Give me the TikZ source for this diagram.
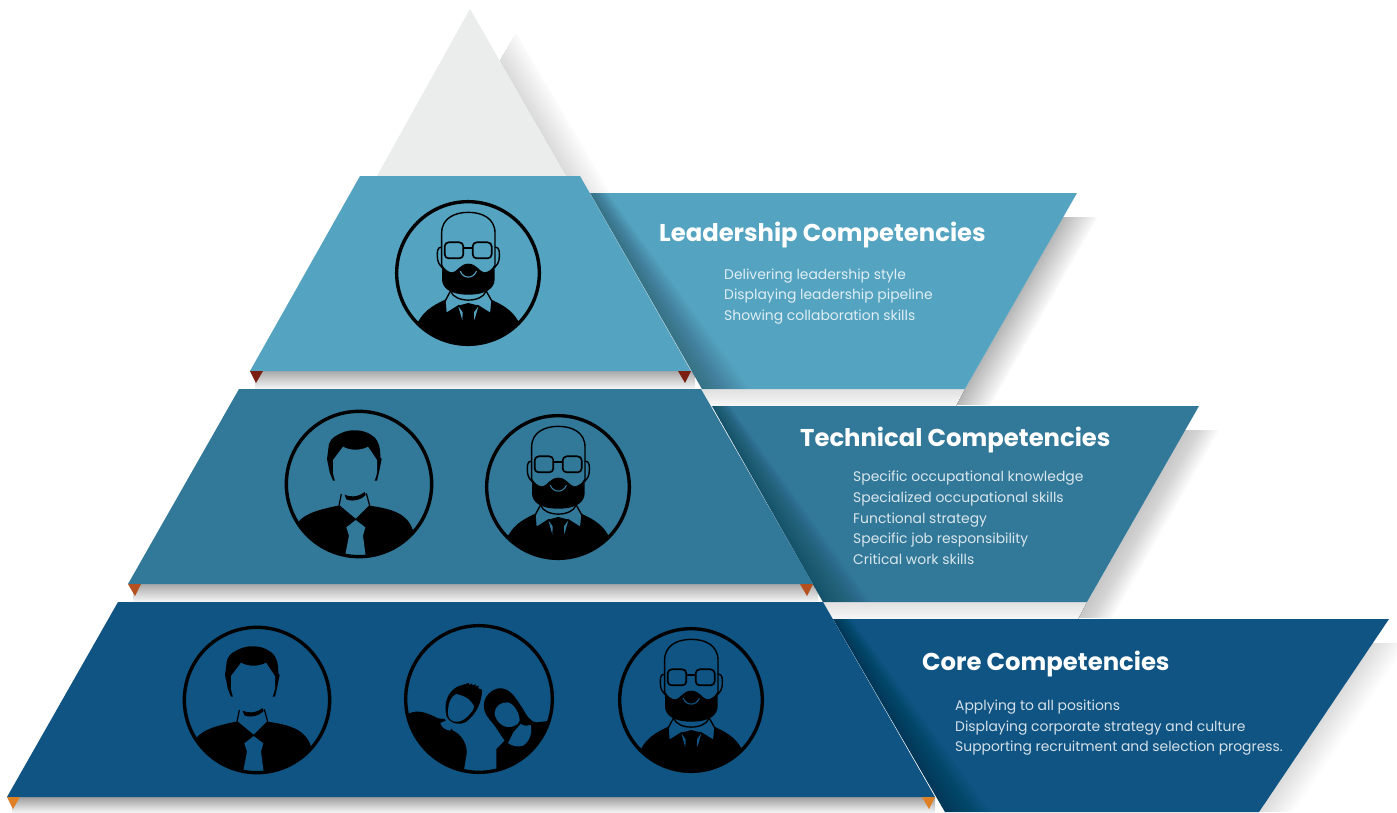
\documentclass[tikz,border=0pt]{standalone}
\usepackage{fontspec}
\setmainfont{Poppins}
\definecolor{leadc}{HTML}{54A3C0}
\definecolor{techc}{HTML}{327899}
\definecolor{corec}{HTML}{0F5482}
\definecolor{apexc}{HTML}{EBECEC}
\definecolor{tria}{HTML}{7A1F12}
\definecolor{trib}{HTML}{B5501F}
\definecolor{tric}{HTML}{DD8026}
\tikzset{
 titletext/.style={anchor=base west,inner sep=0pt,text=white,font=\fontsize{24.3}{27}\selectfont\bfseries},
 bodytext/.style={anchor=base west,inner sep=0pt,text=white!82!#1,font=\fontsize{13.9}{16}\selectfont},
 softstrip/.style={fill=#1,opacity=.01},
 ring/.style={draw=black,line width=3.4pt},
 thin outline/.style={draw=black,line width=1.4pt,line join=round,fill=none},
 pics/beardman/.style={code={
  \begin{scope}[x=1pt/3,y=-1pt/3,shift={(-264,-250)}]
   \begin{scope}
    \clip (264,250) circle (214);
    \fill[black] (100,420) -- (115,395) .. controls (135,358) and (170,342) .. (200,328) -- (330,328) .. controls (360,342) and (395,358) .. (415,395) -- (430,420) -- (430,480) -- (100,480) -- cycle;
   \end{scope}
   \fill[#1] (212,303) -- (195,335) -- (198,372) -- (238,347) -- (292,347) -- (332,372) -- (336,335) -- (318,303) -- cycle;
   \fill[black] (238,347) -- (265,340) -- (292,347) -- (300,400) -- (230,400) -- cycle;
   \fill[#1] (235,350) -- (247,392) -- (248,368) -- cycle;
   \fill[#1] (295,350) -- (283,392) -- (282,368) -- cycle;
   \draw[thin outline] (212,305) .. controls (225,340) and (305,340) .. (318,305);
   \draw[thin outline] (212,303) -- (195,335) -- (198,372) -- (238,347);
   \draw[thin outline] (318,303) -- (336,335) -- (332,372) -- (292,347);
   \draw[thin outline] (185,235) -- (185,130) .. controls (185,85) and (225,68) .. (265,68) .. controls (305,68) and (345,85) .. (345,130) -- (345,235);
   \draw[thin outline] (185,172) .. controls (170,172) and (172,190) .. (172,200) .. controls (172,215) and (178,228) .. (187,232);
   \draw[thin outline] (345,172) .. controls (360,172) and (358,190) .. (358,200) .. controls (358,215) and (352,228) .. (343,232);
   \draw[thin outline,line width=1.7pt,rounded corners=4pt] (194,158) rectangle (250,206);
   \draw[thin outline,line width=1.7pt,rounded corners=4pt] (278,158) rectangle (335,206);
   \draw[thin outline,line width=1.7pt] (250,174) -- (278,174);
   \fill[black] (186,225) .. controls (195,240) and (205,248) .. (218,248) .. controls (232,246) and (240,222) .. (265,222) .. controls (290,222) and (298,246) .. (312,248) .. controls (325,248) and (335,240) .. (344,225) -- (344,268) .. controls (344,295) and (320,315) .. (265,315) .. controls (210,315) and (186,295) .. (186,268) -- cycle;
   \draw[#1,line width=1.1pt,fill=none,line cap=round] (241,245) .. controls (250,268) and (280,268) .. (289,245);
   \draw[ring] (264,250) circle (214);
  \end{scope}
 }},
 pics/suitman/.style={code={
  \begin{scope}[x=1pt/3,y=-1pt/3,shift={(-268,-250)}]
   \begin{scope}
    \clip (268,250) circle (218);
    \fill[black] (60,420) -- (85,365) .. controls (105,340) and (140,328) .. (205,315) -- (258,355) -- (300,315) .. controls (370,325) and (415,340) .. (430,390) -- (470,480) -- (60,480) -- cycle;
   \end{scope}
   \fill[#1] (258,358) -- (230,380) -- (238,405) -- (227,462) -- (288,466) -- (280,405) -- (287,380) -- cycle;
   \fill[black] (180,215) -- (172,175) -- (178,130) .. controls (185,110) and (200,105) .. (215,97) .. controls (240,85) and (280,85) .. (305,103) .. controls (325,115) and (332,135) .. (332,170) -- (336,175) -- (328,215) -- (322,240) -- (190,240) -- cycle;
   \fill[#1] (190,178) -- (220,138) .. controls (240,150) and (275,150) .. (295,138) -- (322,178) -- (322,215) .. controls (318,245) and (295,280) .. (255,280) .. controls (215,280) and (192,245) .. (190,215) -- cycle;
   \fill[black] (225,282) .. controls (240,290) and (265,290) .. (285,274) -- (288,283) .. controls (270,302) and (240,302) .. (230,296) -- cycle;
   \draw[thin outline,line width=1.2pt] (215,280) -- (208,315) -- (258,357) -- (300,315) -- (290,278);
   \draw[ring] (268,250) circle (218);
  \end{scope}
 }},
 pics/couple/.style={code={
  \begin{scope}[x=1pt/3,y=-1pt/3,shift={(-253,-250)}]
   \begin{scope}
    \clip (253,250) circle (220);
    \fill[black] (20,300) -- (40,295) .. controls (70,278) and (105,295) .. (130,308) -- (150,310) -- (175,345) .. controls (200,355) and (222,390) .. (215,420) -- (205,480) -- (20,480) -- cycle;
    \fill[black] (268,265) .. controls (270,235) and (300,215) .. (322,218) .. controls (350,222) and (365,250) .. (385,280) .. controls (395,300) and (410,320) .. (425,320) -- (460,316) -- (490,480) -- (305,480) -- (305,400) -- (330,375) -- (300,330) .. controls (285,310) and (265,295) .. (268,265) -- cycle;
   \end{scope}
   \fill[#1] (137,322) -- (160,312) -- (180,325) -- (166,345) .. controls (150,342) and (142,335) .. (137,322) -- cycle;
   \fill[black] (153,285) .. controls (150,250) and (165,225) .. (190,212) -- (222,202) -- (224,208) -- (232,203) -- (234,210) -- (243,205) -- (243,212) -- (252,210) -- (251,218) -- (262,222) .. controls (262,260) and (245,295) .. (215,318) .. controls (195,330) and (165,325) .. (155,300) -- cycle;
   \fill[#1] (160,290) .. controls (160,262) and (170,240) .. (185,235) .. controls (205,240) and (220,245) .. (232,262) .. controls (242,270) and (238,282) .. (228,292) .. controls (215,310) and (195,322) .. (178,318) .. controls (165,312) and (160,305) .. (160,290) -- cycle;
   \fill[#1] (300,292) .. controls (300,272) and (320,258) .. (340,260) .. controls (360,265) and (375,295) .. (375,315) .. controls (372,330) and (345,340) .. (325,330) .. controls (310,322) and (300,305) .. (300,292) -- cycle;
   \fill[#1] (378,325) .. controls (390,332) and (400,330) .. (408,328) .. controls (414,350) and (405,378) .. (385,390) .. controls (370,396) and (350,390) .. (340,382) -- (356,350) -- cycle;
   \draw[ring] (253,250) circle (220);
  \end{scope}
 }}
}
\begin{document}
\begin{tikzpicture}[x=1pt,y=-1pt]
\clip (0,0) rectangle (1397,812);
\useasboundingbox (0,0) rectangle (1397,812);
\fill[white] (0,0) rectangle (1397,812);
% apex shadow
\begin{scope}
 \clip (516,33) -- (610,193) -- (422,193) -- cycle;
 \foreach \i in {1,...,36}
  \path[softstrip=black!32] (470,9) -- (580,200) -- ++(\i,0) -- (470+\i,9) -- cycle;
\end{scope}
\fill[apexc] (470,9) -- (566,176) -- (377,176) -- cycle;
% Leadership
\foreach \i in {1,...,35}
 \path[softstrip=black!70] (1063,217) -- (956,405) -- (956+\i,405) -- (1063+\i,217) -- cycle;
\fill[top color=black!12,bottom color=black!3] (695,389) -- (965,389) -- (956,406) -- (695,406) -- cycle;
\fill[top color=black!34,bottom color=black!3] (255,371) rectangle (695,389);
\fill[leadc] (590,193) -- (1077,193) -- (965,389) -- (702,389) -- cycle;
\begin{scope}
 \clip (590,193) -- (1077,193) -- (965,389) -- (702,389) -- cycle;
 \foreach \i in {1,...,30}
  \path[softstrip=black!65!techc] (590,193) -- (702,389) -- (702+1.6*\i,389) -- (590+.6*\i,193) -- cycle;
\end{scope}
\fill[leadc] (360,176) -- (580,176) -- (691,371) -- (250,371) -- cycle;
\fill[tria] (250,371) -- (263,371) -- (256,383) -- cycle;
\fill[tria] (678,371) -- (691,371) -- (685,383) -- cycle;
% Technical
\foreach \i in {1,...,35}
 \path[softstrip=black!50] (1185,430) -- (1078,618) -- (1078+\i,618) -- (1185+\i,430) -- cycle;
\fill[top color=black!12,bottom color=black!3] (815,602) -- (1087,602) -- (1078,619) -- (815,619) -- cycle;
\fill[top color=black!34,bottom color=black!3] (133,584) rectangle (818,602);
\fill[techc] (712,406) -- (1199,406) -- (1087,602) -- (823,602) -- cycle;
\begin{scope}
 \clip (712,406) -- (1199,406) -- (1087,602) -- (823,602) -- cycle;
 \foreach \i in {1,...,30}
  \path[softstrip=black!75!corec] (712,406) -- (823,602) -- (823+1.6*\i,602) -- (712+.6*\i,406) -- cycle;
\end{scope}
\fill[techc] (239,389) -- (701,389) -- (813,584) -- (128,584) -- cycle;
\fill[trib] (128,584) -- (141,584) -- (135,596) -- cycle;
\fill[trib] (800,584) -- (813,584) -- (807,596) -- cycle;
% Core
\foreach \i in {1,...,35}
 \path[softstrip=black!28] (1373,643) -- (1259,812) -- (1259+\i,812) -- (1373+\i,643) -- cycle;
\fill[top color=black!38,bottom color=black!5] (12,797) rectangle (935,812);
\fill[corec] (833,619) -- (1389,619) -- (1259,812) -- (945,812) -- cycle;
\begin{scope}
 \clip (833,619) -- (1389,619) -- (1259,812) -- (945,812) -- cycle;
 \foreach \i in {1,...,30}
  \path[softstrip=black!85!corec] (833,619) -- (945,815) -- (945+1.6*\i,815) -- (833+.6*\i,619) -- cycle;
\end{scope}
\fill[corec] (118,602) -- (823,602) -- (935,797) -- (7,797) -- cycle;
\fill[tric] (7,797) -- (20,797) -- (13,809) -- cycle;
\fill[tric] (922,797) -- (935,797) -- (929,809) -- cycle;
% icons
\pic (lead1) at (468,273) {beardman=leadc};
\pic (tech1) at (359,484) {suitman=techc};
\pic (tech2) at (558,487) {beardman=techc};
\pic (core1) at (257,700) {suitman=corec};
\pic (core2) at (479,699) {couple=corec};
\pic (core3) at (691,700) {beardman=corec};
% text
\node[titletext] (t1) at (659,241) {Leadership Competencies};
\node[bodytext=leadc] (l1) at (724,279) {Delivering leadership style};
\node[bodytext=leadc] (l2) at (724,299) {Displaying leadership pipeline};
\node[bodytext=leadc] (l3) at (724,320) {Showing collaboration skills};
\node[titletext] (t2) at (800,446) {Technical Competencies};
\node[bodytext=techc] (m1) at (853,481) {Specific occupational knowledge};
\node[bodytext=techc] (m2) at (853,502) {Specialized occupational skills};
\node[bodytext=techc] (m3) at (853,523) {Functional strategy};
\node[bodytext=techc] (m4) at (853,543) {Specific job responsibility};
\node[bodytext=techc] (m5) at (853,564) {Critical work skills};
\node[titletext] (t3) at (922,670) {Core Competencies};
\node[bodytext=corec] (c1) at (955,710) {Applying to all positions};
\node[bodytext=corec] (c2) at (955,731) {Displaying corporate strategy and culture};
\node[bodytext=corec] (c3) at (955,751) {Supporting recruitment and selection progress.};
\end{tikzpicture}
\end{document}
